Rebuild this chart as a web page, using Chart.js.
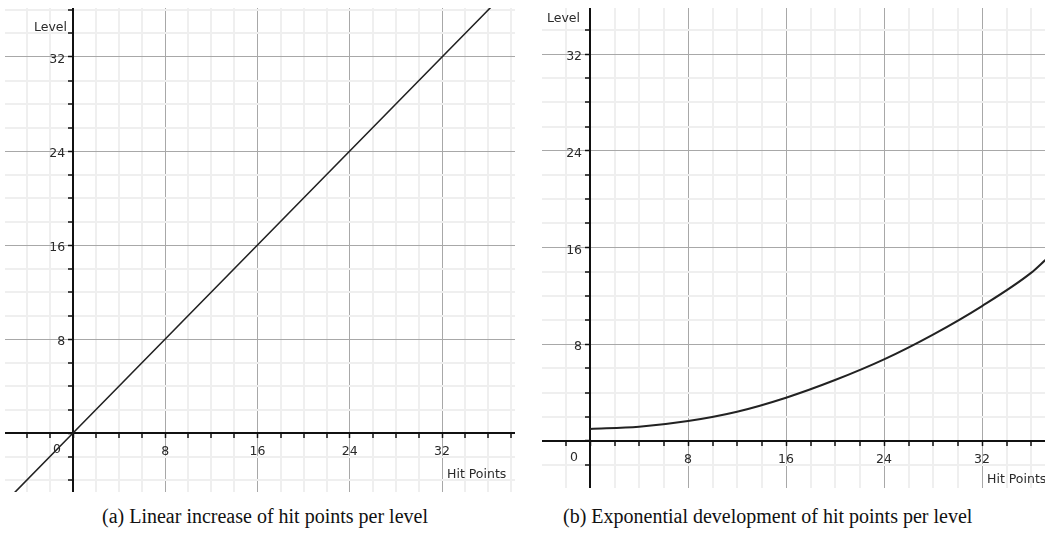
<!DOCTYPE html>
<html>
<head>
<meta charset="utf-8">
<script src="https://cdn.jsdelivr.net/npm/chart.js@4/dist/chart.umd.min.js"></script>
<style>
  body { margin: 0; background: #fff; width: 1045px; height: 538px; position: relative; overflow: hidden; }
  .panel { position: absolute; }
  .caption { position: absolute; top: 505px; font-family: "Liberation Serif", "Times New Roman", serif; font-size: 20px; color: #111; white-space: nowrap; }
</style>
</head>
<body>
<div class="panel" style="left:5px; top:8px;"><canvas id="chartA" width="510" height="484"></canvas></div>
<div class="panel" style="left:542px; top:8px;"><canvas id="chartB" width="503" height="480"></canvas></div>
<div class="caption" style="left:102px;">(a) Linear increase of hit points per level</div>
<div class="caption" style="left:563px;">(b) Exponential development of hit points per level</div>
<script>
// panel (a): straight line
const hitPointsA = [-6, 0, 8, 16, 24, 32, 40];
const levelA = [-6, 0, 8, 16, 24, 32, 40];

// panel (b): curve
const hitPointsB = [0, 4, 8, 12, 16, 20, 24, 28, 32, 36, 37.2];
const levelB = [1.0, 1.18, 1.65, 2.42, 3.58, 5.04, 6.75, 8.8, 11.16, 13.9, 15.0];

// tick positions (every 2), labels only at these
const xTicksA = [-4, -2, 0, 2, 4, 6, 8, 10, 12, 14, 16, 18, 20, 22, 24, 26, 28, 30, 32, 34, 36, 38];
const yTicksA = [-4, -2, 0, 2, 4, 6, 8, 10, 12, 14, 16, 18, 20, 22, 24, 26, 28, 30, 32, 34, 36];
const xTicksB = [-2, 0, 2, 4, 6, 8, 10, 12, 14, 16, 18, 20, 22, 24, 26, 28, 30, 32, 34, 36];
const yTicksB = [-2, 0, 2, 4, 6, 8, 10, 12, 14, 16, 18, 20, 22, 24, 26, 28, 30, 32, 34];
const labelledTicks = [8, 16, 24, 32];

const axisFont = { family: 'DejaVu Sans', size: 12.5 };
const textColor = '#2a2a2a';

function gridColor(ctx) {
    if (!ctx.tick) return '#eeeeee';
    return ctx.tick.value % 8 === 0 ? '#a8a8a8' : '#efefef';
}
function gridWidth(ctx) {
    if (!ctx.tick) return 1;
    return ctx.tick.value % 8 === 0 ? 1 : 2;
}
function xLabel(value) {
    return labelledTicks.includes(value) ? String(value) : '';
}
// y labels are right aligned on the axis line, the spaces push them off it
function yLabel(value) {
    return labelledTicks.includes(value) ? String(value) + '  ' : '';
}
function noPadding(scale) {
    scale.paddingLeft = 0;
    scale.paddingRight = 0;
    scale.paddingTop = 0;
    scale.paddingBottom = 0;
}

function makeScale(min, max, ticks, position, isX) {
    return {
        type: 'linear',
        min: min,
        max: max,
        position: position,
        afterBuildTicks: scale => { scale.ticks = ticks.map(v => ({ value: v })); },
        afterFit: noPadding,
        grid: {
            color: gridColor,
            lineWidth: gridWidth,
            drawTicks: true,
            tickLength: 4,
            tickColor: '#111',
            tickWidth: 1.5
        },
        border: { display: true, color: '#111', width: 2 },
        ticks: {
            autoSkip: false,
            maxRotation: 0,
            font: axisFont,
            color: textColor,
            padding: isX ? 7 : 3,
            labelOffset: isX ? 0 : 3,
            callback: isX ? xLabel : yLabel
        }
    };
}

// axis titles and the origin "0"
const axisText = {
    id: 'axisText',
    afterDraw(chart, args, opts) {
        const { ctx, scales: { x, y } } = chart;
        const ox = x.getPixelForValue(0);
        const oy = y.getPixelForValue(0);
        ctx.save();
        ctx.font = '12.5px "DejaVu Sans"';
        ctx.fillStyle = textColor;
        ctx.textBaseline = 'middle';
        ctx.textAlign = 'center';
        ctx.fillText('0', ox - 16, oy + 17);
        ctx.textAlign = 'right';
        ctx.fillText('Level', ox - opts.levelDx, y.getPixelForValue(opts.levelY));
        ctx.textAlign = 'left';
        ctx.fillText('Hit Points', x.getPixelForValue(32) + 5, oy + opts.hpDy);
        ctx.restore();
    }
};

function makeChart(id, xs, ys, lineWidth, xr, yr, xt, yt, textOpts) {
    return new Chart(document.getElementById(id), {
        type: 'line',
        data: {
            datasets: [{
                data: xs.map((v, i) => ({ x: v, y: ys[i] })),
                borderColor: '#222',
                borderWidth: lineWidth,
                pointRadius: 0,
                cubicInterpolationMode: 'monotone',
                fill: false
            }]
        },
        options: {
            responsive: false,
            animation: false,
            layout: { padding: 0 },
            plugins: {
                legend: { display: false },
                tooltip: { enabled: false },
                axisText: textOpts
            },
            scales: {
                x: makeScale(xr[0], xr[1], xt, { y: 0 }, true),
                y: makeScale(yr[0], yr[1], yt, { x: 0 }, false)
            }
        },
        plugins: [axisText]
    });
}

makeChart('chartA', hitPointsA, levelA, 1.6, [-5.9, 38.33], [-5.02, 36.17], xTicksA, yTicksA,
    { levelDx: 6, levelY: 34.5, hpDy: 42 });
makeChart('chartB', hitPointsB, levelB, 2, [-3.92, 37.14], [-3.89, 35.81], xTicksB, yTicksB,
    { levelDx: 10, levelY: 34.9, hpDy: 39 });
</script>
</body>
</html>
